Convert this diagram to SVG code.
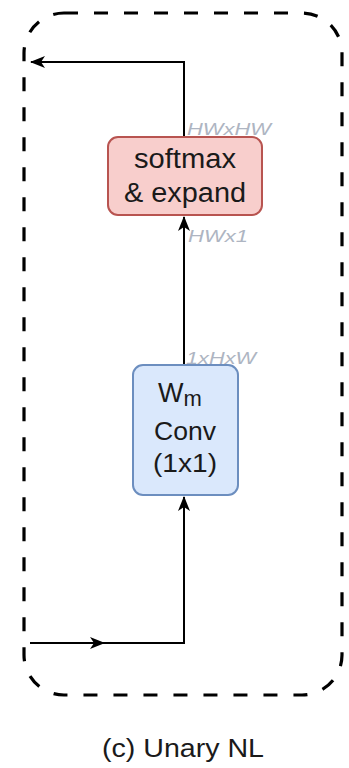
<svg xmlns="http://www.w3.org/2000/svg" width="349" height="768" viewBox="0 0 349 768">
  <defs>
    <marker id="arrow" viewBox="0 0 15 14" refX="14" refY="7" markerWidth="15" markerHeight="14" markerUnits="userSpaceOnUse" orient="auto">
      <path d="M0,1 L15,7 L0,13 L4,7 Z" fill="#000"/>
    </marker>
    <style>
      .frame { fill: none; stroke: #000; stroke-width: 3.2; stroke-dasharray: 14 16; }
      .edge { fill: none; stroke: #000; stroke-width: 2; }
      .lbl { font-family: "Liberation Sans", Arial, sans-serif; fill: #1a1a1a; text-anchor: middle; }
      .dim { font-family: "Liberation Sans", Arial, sans-serif; font-style: italic; fill: #aeb5c2; font-size: 17px; }
    </style>
  </defs>

  <!-- dashed module frame -->
  <rect class="frame" x="24" y="13" width="318" height="682" rx="40" ry="40"/>

  <!-- connectors -->
  <g id="connectors">
    <line class="edge" x1="30" y1="643" x2="104" y2="643" marker-end="url(#arrow)"/>
    <polyline class="edge" points="104,643 184,643 184,497" marker-end="url(#arrow)"/>
    <line class="edge" x1="184" y1="365" x2="184" y2="217" marker-end="url(#arrow)"/>
    <polyline class="edge" points="184,137 184,62 31,62" marker-end="url(#arrow)"/>
  </g>

  <!-- shape annotations -->
  <g id="dims">
    <text class="dim" x="187" y="135" textLength="84" lengthAdjust="spacingAndGlyphs">HWxHW</text>
    <text class="dim" x="188" y="242" textLength="60" lengthAdjust="spacingAndGlyphs">HWx1</text>
    <text class="dim" x="186" y="364" textLength="70" lengthAdjust="spacingAndGlyphs">1xHxW</text>
  </g>

  <g id="softmax">
    <rect x="108" y="137" width="154" height="78" rx="10" ry="10" fill="#f8cecc" stroke="#b85450" stroke-width="2"/>
    <text class="lbl" x="185" y="168" font-size="27" textLength="102" lengthAdjust="spacingAndGlyphs">softmax</text>
    <text class="lbl" x="185" y="202" font-size="27" textLength="122" lengthAdjust="spacingAndGlyphs">&amp; expand</text>
  </g>

  <g id="wm-conv">
    <rect x="133" y="365" width="105" height="130" rx="10" ry="10" fill="#dae8fc" stroke="#6c8ebf" stroke-width="2"/>
    <text class="lbl" x="180" y="402" font-size="27">W<tspan font-size="22" dy="4">m</tspan></text>
    <text class="lbl" x="185" y="440" font-size="26" textLength="62" lengthAdjust="spacingAndGlyphs">Conv</text>
    <text class="lbl" x="185" y="472" font-size="26" textLength="64" lengthAdjust="spacingAndGlyphs">(1x1)</text>
  </g>

  <text class="lbl" x="183" y="757" font-size="25" textLength="162" lengthAdjust="spacingAndGlyphs">(c) Unary NL</text>
</svg>
